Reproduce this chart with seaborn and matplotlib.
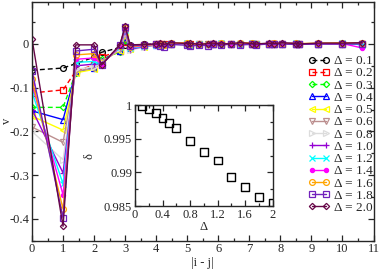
import matplotlib
matplotlib.use("Agg")
import matplotlib.pyplot as plt
import seaborn as sns
import pandas as pd
from matplotlib.ticker import MultipleLocator

# lattice distances |i - j|
dist = [0.0, 1.0, 1.41, 2.0, 2.24, 2.83, 3.0, 3.16, 3.61, 4.0,
        4.12, 4.24, 4.47, 5.00, 5.10, 5.39, 5.66, 5.83, 6.08, 6.40, 6.71,
        7.07, 7.21, 7.62, 7.81, 8.06, 8.49, 8.60, 9.22, 10.00, 10.63]

deltas = [0.1, 0.2, 0.3, 0.4, 0.5, 0.6, 0.8, 1.0, 1.2, 1.4, 1.6, 1.8, 2.0]

v_d01 = [-0.060, -0.055, -0.045, -0.030, -0.019, -0.008, -0.002, -0.003, -0.001, 0.000,
         0.000, 0.000, 0.001, 0.000, 0.000, 0.000, 0.000, 0.000, 0.000, 0.000, 0.000,
         0.000, 0.000, 0.000, 0.000, 0.000, 0.000, 0.000, 0.000, 0.000, 0.000]
v_d02 = [-0.112, -0.105, -0.062, -0.048, -0.030, -0.015, 0.005, -0.006, -0.002, 0.000,
         -0.001, 0.000, 0.001, 0.000, -0.001, 0.000, 0.000, 0.001, 0.000, 0.000, 0.000,
         0.000, 0.000, 0.000, 0.000, 0.000, 0.000, 0.000, 0.000, 0.000, 0.000]
v_d03 = [-0.145, -0.145, -0.066, -0.054, -0.035, -0.018, 0.010, -0.008, -0.003, -0.001,
         -0.002, -0.001, 0.001, 0.000, -0.001, 0.000, -0.001, 0.001, 0.000, 0.000, 0.000,
         0.000, 0.000, 0.000, 0.000, 0.000, 0.000, 0.000, 0.000, 0.000, 0.000]
v_d04 = [-0.153, -0.173, -0.064, -0.055, -0.038, -0.015, 0.015, -0.010, -0.004, -0.002,
         -0.003, -0.001, 0.000, 0.001, -0.002, 0.000, -0.001, 0.000, 0.001, 0.000, 0.000,
         0.001, 0.000, 0.000, 0.001, 0.000, 0.000, 0.000, 0.000, 0.000, 0.000]
v_d05 = [-0.165, -0.197, -0.066, -0.058, -0.040, -0.015, 0.018, -0.012, -0.006, -0.002,
         -0.004, -0.002, 0.000, 0.001, -0.002, -0.001, -0.001, 0.000, 0.001, 0.000, 0.000,
         0.001, 0.000, -0.001, 0.001, 0.000, 0.001, 0.000, 0.000, 0.001, 0.000]
v_d06 = [-0.190, -0.225, -0.062, -0.056, -0.042, -0.012, 0.022, -0.013, -0.006, -0.002,
         -0.004, -0.002, -0.001, 0.001, -0.002, -0.001, -0.002, 0.000, 0.001, -0.001, 0.000,
         0.001, 0.000, -0.001, 0.001, 0.000, 0.001, 0.000, 0.000, 0.001, 0.000]
v_d08 = [-0.200, -0.265, -0.058, -0.052, -0.044, -0.010, 0.026, -0.014, -0.007, -0.003,
         -0.005, -0.002, -0.001, 0.001, -0.003, -0.001, -0.002, 0.000, 0.001, -0.001, 0.001,
         0.001, 0.000, -0.001, 0.001, 0.000, 0.001, 0.000, 0.001, 0.001, 0.000]
v_d10 = [-0.150, -0.295, -0.050, -0.046, -0.045, -0.008, 0.030, -0.012, -0.006, -0.002,
         -0.004, -0.003, 0.000, 0.002, -0.002, -0.001, -0.001, 0.001, 0.001, -0.001, 0.001,
         0.002, 0.000, -0.001, 0.001, 0.001, 0.001, 0.000, 0.001, 0.001, 0.001]
v_d12 = [-0.110, -0.320, -0.042, -0.040, -0.046, -0.006, 0.033, -0.010, -0.005, -0.002,
         -0.004, -0.002, 0.001, 0.002, -0.002, -0.001, -0.001, 0.001, 0.002, -0.001, 0.001,
         0.002, 0.001, -0.001, 0.001, 0.001, 0.002, 0.000, 0.001, 0.002, -0.002]
v_d14 = [-0.092, -0.345, -0.035, -0.032, -0.047, -0.005, 0.035, -0.008, -0.004, -0.001,
         -0.003, -0.002, 0.001, 0.002, -0.001, -0.001, 0.000, 0.001, 0.002, -0.001, 0.001,
         0.002, 0.001, -0.001, 0.001, 0.001, 0.002, 0.000, 0.001, 0.001, -0.009]
v_d16 = [-0.081, -0.378, -0.025, -0.022, -0.047, -0.004, 0.037, -0.006, -0.003, -0.001,
         -0.002, -0.002, 0.002, 0.003, -0.001, 0.000, 0.001, 0.001, 0.002, 0.000, 0.002,
         0.003, 0.001, 0.000, 0.002, 0.001, 0.002, 0.001, 0.002, 0.003, 0.002]
v_d18 = [-0.061, -0.398, -0.016, -0.012, -0.048, -0.003, 0.038, -0.004, -0.002, 0.000,
         -0.004, -0.006, -0.001, -0.003, -0.005, -0.002, -0.004, -0.001, -0.003, 0.000, -0.002,
         -0.001, -0.002, 0.000, -0.001, 0.000, -0.001, -0.001, 0.000, 0.000, 0.000]
v_d20 = [0.012, -0.417, -0.002, -0.002, -0.048, -0.002, 0.041, -0.002, -0.001, 0.000,
         0.002, -0.001, 0.003, 0.001, 0.002, -0.001, 0.001, 0.002, 0.000, 0.001, 0.003,
         0.001, 0.000, 0.002, 0.001, 0.003, 0.001, 0.000, 0.002, 0.002, 0.003]

# inset: delta vs Delta
inset_delta = [0.1, 0.2, 0.3, 0.4, 0.5, 0.6, 0.8, 1.0, 1.2, 1.4, 1.6, 1.8, 2.0]
inset_small_delta = [0.9999, 0.9994, 0.99876, 0.9981, 0.99735, 0.99655, 0.9947,
                     0.9930, 0.99175, 0.9893, 0.98788, 0.9864, 0.9854]

series = [v_d01, v_d02, v_d03, v_d04, v_d05, v_d06, v_d08,
          v_d10, v_d12, v_d14, v_d16, v_d18, v_d20]
colors = ["#000000", "#ff0000", "#00ff00", "#0000ff", "#ffff00", "#bc8f8f", "#dcdcdc",
          "#9400d3", "#00ffff", "#ff00ff", "#ffa500", "#7221bc", "#670748"]
markers = ["o", "s", "D", "^", "<", "v", ">", "+", "x", "o", "o", "s", "D"]

sns.set_theme(style="ticks")
plt.rcParams["font.family"] = ["Liberation Serif", "DejaVu Serif"]
plt.rcParams["axes.unicode_minus"] = False

fig = plt.figure(figsize=(3.82, 2.70), dpi=100)
ax = fig.add_axes([0.0838, 0.1085, 0.894, 0.884])

for i, (d, vals) in enumerate(zip(deltas, series)):
    df = pd.DataFrame({"x": dist, "v": vals})
    ls = (0, (3.5, 2.2)) if i < 3 else "-"
    filled = (i == 9)
    ms = 3.2 if markers[i] == "D" else 4.2
    if filled:
        ms = 3.0
    sns.lineplot(data=df, x="x", y="v", ax=ax, color=colors[i], marker=markers[i],
                 markersize=ms, markeredgewidth=0.9, linewidth=1.0, linestyle=ls,
                 markerfacecolor=colors[i] if filled else "none",
                 markeredgecolor=colors[i], sort=False,
                 label=f"Δ = {d:.1f}")

ax.set_xlim(0, 11)
ax.set_ylim(-0.45, 0.096)
ax.set_xticks(range(0, 12))
ax.xaxis.set_minor_locator(MultipleLocator(0.5))
ax.set_yticks([-0.4, -0.3, -0.2, -0.1, 0.0])
ax.set_yticklabels(["-0.4", "-0.3", "-0.2", "-0.1", "0"])
ax.yaxis.set_minor_locator(MultipleLocator(0.05))
ax.tick_params(which="both", direction="in", top=True, right=True, width=0.9,
               labelsize=9, pad=2)
ax.tick_params(which="major", length=4.5)
ax.tick_params(which="minor", length=2.5)
for s in ax.spines.values():
    s.set_linewidth(1.0)
ax.set_xlabel("|i - j|", fontsize=9, labelpad=1)
ax.set_ylabel("v", fontsize=9)
ax.yaxis.set_label_coords(-0.057, 0.5)

ax.legend(loc="upper right", bbox_to_anchor=(373 / 382, 1 - 55 / 270),
          bbox_transform=fig.transFigure, frameon=False, fontsize=9.5,
          numpoints=2, handlelength=1.7, handletextpad=0.3, labelspacing=0.0,
          borderaxespad=0, borderpad=0)

# inset
axi = fig.add_axes([0.3534, 0.237, 0.3605, 0.374])
sns.scatterplot(x=inset_delta, y=inset_small_delta, ax=axi, marker="s", s=32,
                facecolor="none", edgecolor="black", linewidth=1.0)
axi.set_xlim(0, 2)
axi.set_ylim(0.985, 1.0)
axi.set_xticks([0, 0.4, 0.8, 1.2, 1.6, 2.0])
axi.set_xticklabels(["0", "0.4", "0.8", "1.2", "1.6", "2"])
axi.xaxis.set_minor_locator(MultipleLocator(0.2))
axi.set_yticks([0.985, 0.99, 0.995, 1.0])
axi.set_yticklabels(["0.985", "0.99", "0.995", "1"])
axi.yaxis.set_minor_locator(MultipleLocator(0.0025))
axi.tick_params(which="both", direction="in", top=True, right=True, width=0.9,
                labelsize=9, pad=2)
axi.tick_params(which="major", length=4.5)
axi.tick_params(which="minor", length=2.5)
for s in axi.spines.values():
    s.set_linewidth(1.0)
axi.set_xlabel("Δ", fontsize=9, labelpad=0)
axi.set_ylabel("δ", fontsize=9)
axi.yaxis.set_label_coords(-0.29, 0.5)

fig.savefig("out.png", dpi=100)
